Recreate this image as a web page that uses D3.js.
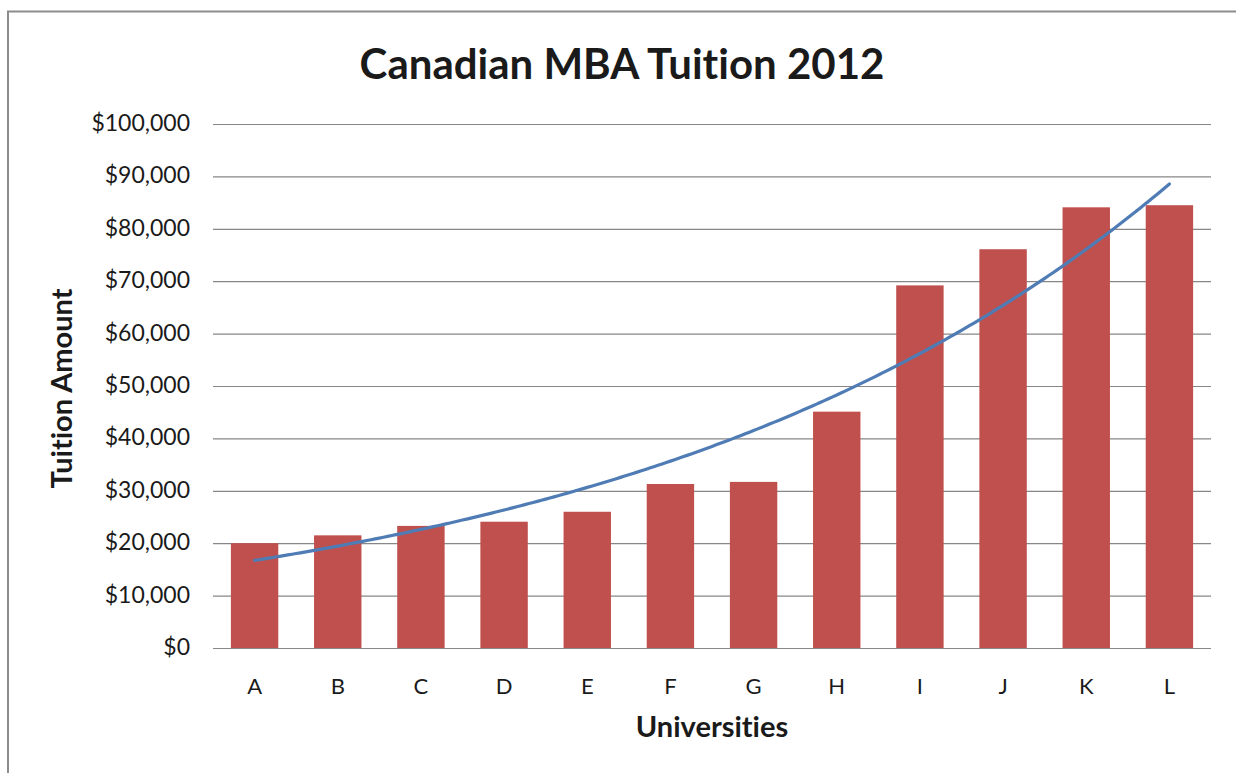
<!DOCTYPE html>
<html>
<head>
<meta charset="utf-8">
<script src="https://cdn.jsdelivr.net/npm/d3@7"></script>
<style>
  html, body { margin: 0; padding: 0; background: #ffffff; }
  svg { display: block; }
  text { font-family: Lato, "Open Sans", sans-serif; fill: #1a1a1a; font-variant-ligatures: none; }
</style>
</head>
<body>
<svg id="chart" width="1236" height="773"></svg>
<script>
// Universities (anonymised) and their MBA tuition in 2012
const universities = ["A", "B", "C", "D", "E", "F", "G", "H", "I", "J", "K", "L"];
const tuition = [20000, 21500, 23300, 24100, 26000, 31300, 31700, 45100, 69200, 76100, 84100, 84500];
const yTicks = [0, 10000, 20000, 30000, 40000, 50000, 60000, 70000, 80000, 90000, 100000];

const svg = d3.select("#chart");
const W = 1236, H = 773;
const plot = { left: 213, right: 1211, top: 124, bottom: 648 };

// chart frame (top and left edges only visible)
svg.append("rect").attr("width", W).attr("height", H).attr("fill", "#ffffff");
svg.append("path")
  .attr("d", `M8,${H} V11.5 H${W}`)
  .attr("fill", "none").attr("stroke", "#8c8c8c").attr("stroke-width", 2);

const x = d3.scaleBand()
  .domain(universities)
  .range([plot.left, plot.right])
  .paddingInner(0.43)
  .paddingOuter(0.215);

const y = d3.scaleLinear()
  .domain([0, 100000])
  .range([plot.bottom, plot.top]);

const fmt = v => "$" + d3.format(",")(v);

// horizontal gridlines + y labels
const yAxis = d3.axisLeft(y)
  .tickValues(yTicks)
  .tickFormat(fmt)
  .tickSize(-(plot.right - plot.left))
  .tickPadding(23);

const gy = svg.append("g")
  .attr("transform", `translate(${plot.left},0)`)
  .call(yAxis);
gy.select(".domain").remove();
gy.selectAll(".tick line").attr("stroke", "#878787").attr("stroke-width", 1.2);
gy.selectAll(".tick text")
  .attr("font-size", 23)
  .attr("dy", "0.28em")
  .style("font-family", "Lato, sans-serif")
  .attr("fill", "#222");

// bars
svg.append("g")
  .selectAll("rect")
  .data(universities)
  .join("rect")
  .attr("x", d => x(d))
  .attr("width", x.bandwidth())
  .attr("y", (d, i) => y(tuition[i]))
  .attr("height", (d, i) => y(0) - y(tuition[i]))
  .attr("fill", "#C0504D");

// x labels
const xAxis = d3.axisBottom(x).tickSize(0).tickPadding(30);
const gx = svg.append("g")
  .attr("transform", `translate(0,${plot.bottom})`)
  .call(xAxis);
gx.select(".domain").remove();
gx.selectAll(".tick text")
  .attr("font-size", 22)
  .style("font-family", "Lato, sans-serif")
  .attr("fill", "#222");

// exponential trendline: least squares fit of ln(tuition) on category index 1..12
const n = tuition.length;
const xs = d3.range(1, n + 1);
const ls = tuition.map(v => Math.log(v));
const mx = d3.mean(xs), ml = d3.mean(ls);
const b = d3.sum(xs, (v, i) => (v - mx) * (ls[i] - ml)) / d3.sum(xs, v => (v - mx) * (v - mx));
const lnA = ml - b * mx;
const trend = t => Math.exp(lnA + b * t);

const center = t => x(universities[0]) + x.bandwidth() / 2 + (t - 1) * x.step();
const trendPts = d3.range(1, n + 0.001, 0.05);
svg.append("path")
  .datum(trendPts)
  .attr("fill", "none")
  .attr("stroke", "#4F7CB5")
  .attr("stroke-width", 3.2)
  .attr("stroke-linecap", "round")
  .attr("d", d3.line().x(t => center(t)).y(t => y(trend(t))));

// title
svg.append("text")
  .attr("x", 622).attr("y", 79)
  .attr("text-anchor", "middle")
  .attr("font-size", 42)
  .attr("font-weight", 700)
  .attr("fill", "#111")
  .text("Canadian MBA Tuition 2012");

// axis titles
svg.append("text")
  .attr("x", (plot.left + plot.right) / 2).attr("y", 737)
  .attr("text-anchor", "middle")
  .attr("font-size", 29)
  .attr("font-weight", 700)
  .attr("fill", "#111")
  .text("Universities");

svg.append("text")
  .attr("transform", `translate(72,${(282 + 495) / 2}) rotate(-90)`)
  .attr("text-anchor", "middle")
  .attr("font-size", 29)
  .attr("font-weight", 700)
  .attr("fill", "#111")
  .text("Tuition Amount");
</script>
</body>
</html>
